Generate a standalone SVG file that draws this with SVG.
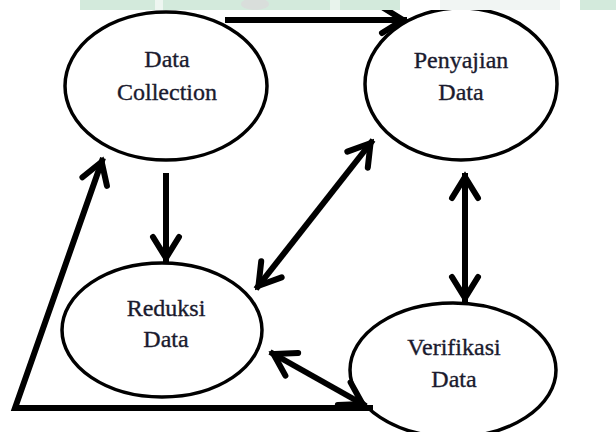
<svg xmlns="http://www.w3.org/2000/svg" width="616" height="432" viewBox="0 0 616 432">
  <defs>
    <style>
      .node ellipse { fill: #ffffff; stroke: #000000; stroke-width: 3.5; }
      .node text { font-family: "Liberation Serif", "Times New Roman", serif; font-size: 24px; fill: #1a1a2e; stroke: #1a1a2e; stroke-width: 0.35; text-anchor: middle; }
      .conn { fill: none; stroke: #000000; stroke-width: 6; stroke-linejoin: miter; }
      .wm { fill: #d3eadc; }
    </style>
    <marker id="ah" markerUnits="userSpaceOnUse" orient="auto-start-reverse" refX="0" refY="0" markerWidth="40" markerHeight="40" viewBox="-30 -20 40 40" overflow="visible">
      <path d="M-25,-13 L-4,0 L-25,13" fill="none" stroke="#000000" stroke-width="6" stroke-linecap="round" stroke-linejoin="miter"/>
    </marker>
  </defs>
  <rect width="616" height="432" fill="#ffffff"/>
  <g id="node-data-collection" class="node">
    <ellipse cx="166" cy="86" rx="101" ry="74"/>
    <text x="167" y="67">Data</text>
    <text x="167" y="100">Collection</text>
  </g>
  <g id="node-penyajian-data" class="node">
    <ellipse cx="461" cy="84" rx="96" ry="76"/>
    <text x="461" y="68">Penyajian</text>
    <text x="461" y="100">Data</text>
  </g>
  <g id="node-reduksi-data" class="node">
    <ellipse cx="162" cy="330" rx="100" ry="67"/>
    <text x="166" y="316">Reduksi</text>
    <text x="166" y="347">Data</text>
  </g>
  <g id="node-verifikasi-data" class="node">
    <ellipse cx="453" cy="370" rx="103" ry="67"/>
    <text x="454" y="355">Verifikasi</text>
    <text x="454" y="387">Data</text>
  </g>
  <g id="connectors">
    <path class="conn" d="M225,20 L407,20" marker-end="url(#ah)"/>
    <path class="conn" d="M166,173 L166,262" marker-end="url(#ah)"/>
    <path class="conn" d="M256,289 L373,140" marker-start="url(#ah)" marker-end="url(#ah)"/>
    <path class="conn" d="M465,173 L465,302" marker-start="url(#ah)" marker-end="url(#ah)"/>
    <path class="conn" d="M270,352 L366,406" marker-start="url(#ah)" marker-end="url(#ah)"/>
    <path class="conn" d="M373,408 L15,408 L103,158" marker-end="url(#ah)"/>
  </g>
  <g id="watermark">
    <rect x="0" y="0" width="616" height="10" fill="#ffffff"/>
    <rect class="wm" x="80" y="0" width="320" height="10"/>
    <rect x="155" y="0" width="8" height="10" fill="#eef6f1"/>
    <ellipse cx="255" cy="4" rx="14" ry="6" fill="#d9dedb"/>
    <rect x="330" y="0" width="10" height="10" fill="#e8f3ec"/>
    <rect x="440" y="0" width="120" height="10" fill="#f1f5f3"/>
    <rect class="wm" x="580" y="0" width="36" height="10"/>
  </g>
</svg>
